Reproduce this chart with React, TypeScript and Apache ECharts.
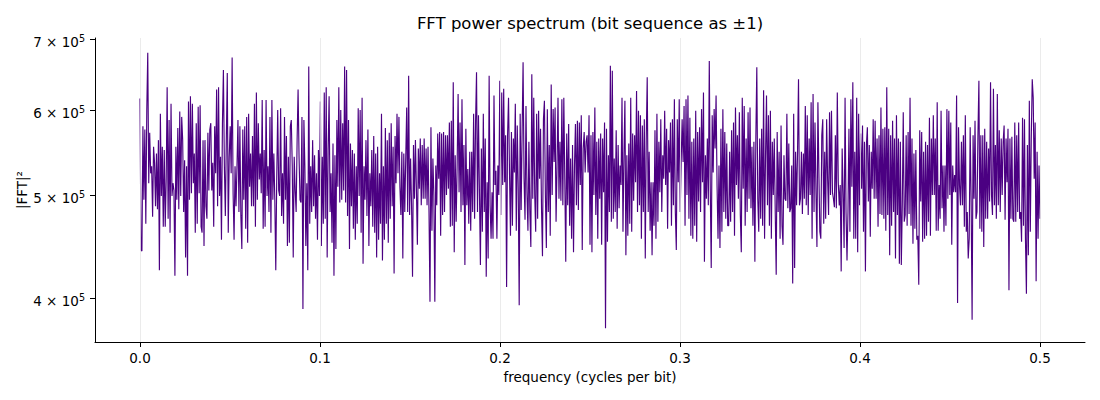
import React, { useEffect, useRef } from "react";
import * as echarts from "echarts";

// |FFT|² values, in thousands, left to right (0 → 0.5 cycles/bit)
const seg1 = [616, 444, 443, 580, 495, 576, 470, 601, 680, 513, 572, 524, 532, 477, 555, 536, 488, 547, 485, 563, 425, 596, 499, 555, 467, 551, 467, 517, 631, 475, 588, 461, 609, 499, 513, 505, 420, 555, 495, 578, 485, 599, 499, 592, 563, 482, 539, 437, 532, 420, 612, 495, 619, 502, 609, 513, 547, 461, 584, 470, 605, 502, 607, 467, 461, 563, 448, 563, 488, 475, 572, 505, 576, 584, 505, 536, 467, 580, 524, 628, 488, 631, 499, 543, 454, 584, 655, 532];
const seg2 = [478, 563, 651, 461, 543, 580, 524, 673, 502, 454, 532, 488, 532, 588, 482, 580, 478, 445, 576, 495, 580, 465, 592, 451, 596, 509, 547, 488, 568, 488, 609, 467, 624, 495, 584, 517, 547, 502, 614, 465, 551, 467, 614, 499, 532, 482, 592, 461, 614, 495, 547, 495, 425, 520, 601, 505, 499, 603, 478, 524, 470, 592, 495, 568, 448, 543, 451, 580, 588, 532, 437, 543, 505, 482, 563, 628, 543, 495, 492, 592, 391, 588, 532, 448, 513, 425, 660, 470, 532];
const seg3 = [482, 563, 488, 545, 475, 524, 454, 551, 499, 612, 448, 543, 470, 624, 475, 631, 437, 551, 619, 482, 524, 451, 559, 420, 545, 445, 588, 509, 631, 492, 601, 495, 584, 505, 660, 492, 655, 478, 588, 445, 559, 488, 551, 465, 547, 454, 532, 470, 603, 499, 601, 461, 617, 431, 532, 495, 563, 478, 576, 448, 524, 488, 551, 467, 568, 461, 547, 437, 555, 454, 524, 470, 596, 434, 532, 454, 578, 470, 563, 451, 572, 475, 584, 488, 555, 422, 568, 513, 596, 524, 592, 509];
const seg4 = [479, 549, 436, 547, 482, 541, 604, 482, 647, 479, 541, 489, 419, 557, 496, 563, 507, 449, 553, 507, 565, 489, 557, 496, 565, 496, 553, 489, 555, 482, 397, 579, 463, 541, 500, 397, 533, 489, 571, 518, 573, 458, 571, 479, 573, 482, 569, 500, 569, 507, 585, 467, 587, 468, 638, 442, 545, 472, 533, 622, 503, 585, 482, 615, 489, 557, 430, 577, 489, 529, 470, 549, 463, 549, 482, 596, 475, 585, 652, 482, 594, 503, 430, 553, 462, 596, 482, 565, 419, 514, 436, 647, 489, 455, 503, 455, 620, 511];
const seg5 = [527, 455, 533, 500, 640, 479, 624, 511, 629, 514, 569, 410, 569, 617, 525, 458, 573, 468, 565, 525, 609, 463, 581, 507, 394, 596, 484, 573, 666, 518, 474, 606, 503, 463, 561, 482, 447, 649, 496, 617, 500, 462, 596, 475, 600, 518, 577, 486, 438, 589, 613, 500, 446, 602, 482, 557, 458, 635, 500, 602, 537, 604, 472, 531, 617, 496, 561, 494, 615, 489, 617, 518, 433, 571, 489, 583, 468, 541, 455, 557, 442, 533, 583, 489, 587, 484, 585, 511, 594, 444, 553, 573, 525, 561];
const seg6 = [569, 525, 594, 449, 569, 442, 573, 500, 604, 479, 561, 455, 565, 496, 571, 449, 565, 503, 585, 375, 577, 452, 545, 482, 661, 472, 654, 475, 541, 482, 575, 465, 557, 486, 533, 511, 617, 462, 545, 613, 439, 545, 458, 559, 470, 617, 462, 571, 494, 569, 514, 626, 482, 600, 489, 594, 455, 581, 482, 589, 436, 565, 645, 482, 549, 463, 514, 439, 514, 468, 575, 455, 596, 472, 561, 503, 589, 482, 545, 518, 600, 511, 577, 465, 563, 525, 585, 468, 589, 489, 615, 482, 444, 589, 514, 615, 482, 537, 589, 537];
const seg7 = [606, 468, 615, 500, 620, 475, 591, 458, 561, 455, 565, 468, 600, 452, 573, 493, 579, 482, 602, 514, 624, 433, 545, 496, 565, 489, 668, 507, 427, 594, 525, 602, 553, 620, 511, 455, 533, 446, 577, 462, 602, 482, 573, 475, 559, 468, 468, 549, 472, 575, 482, 585, 458, 604, 511, 569, 496, 598, 479, 442, 617, 507, 606, 468, 565, 482, 598, 496, 604, 486, 555, 468, 561, 433, 565, 659, 496, 462, 565, 475, 577, 468, 627, 455, 545, 620, 489, 594, 468, 600, 455, 561, 500, 565, 482, 421];
const seg8 = [573, 482, 549, 455, 581, 468, 449, 545, 496, 494, 596, 486, 559, 482, 486, 533, 413, 596, 427, 549, 489, 549, 642, 489, 496, 549, 480, 547, 496, 606, 489, 594, 479, 565, 500, 611, 455, 622, 482, 585, 503, 447, 611, 525, 462, 455, 569, 589, 470, 549, 475, 589, 518, 479, 598, 500, 600, 503, 496, 487, 569, 486, 624, 514, 489, 511, 424, 553, 503, 446, 617, 482, 434, 482, 577, 462, 615, 509, 638, 455, 549, 455, 617, 442, 596, 489, 571, 507, 581, 462, 561, 424, 557];
const seg9 = [579, 493, 557, 457, 549, 507, 589, 496, 587, 496, 565, 467, 569, 480, 604, 479, 577, 475, 579, 463, 631, 479, 577, 439, 569, 468, 587, 482, 565, 436, 594, 479, 565, 431, 561, 430, 489, 598, 472, 479, 569, 468, 573, 480, 617, 468, 565, 450, 547, 465, 551, 454, 458, 412, 575, 493, 573, 452, 549, 455, 561, 458, 557, 472, 591, 458, 565, 500, 594, 500, 565, 463, 611, 463, 511, 475, 600, 486, 533, 462, 533, 468, 602, 496, 600, 500, 585, 449, 533, 503, 522];
const seg10 = [503, 620, 396, 579, 511, 489, 561, 489, 569, 467, 594, 462, 482, 436, 455, 579, 493, 382, 569, 496, 587, 475, 482, 569, 640, 465, 569, 462, 569, 447, 577, 475, 561, 475, 553, 493, 638, 500, 479, 629, 489, 557, 475, 622, 489, 575, 482, 565, 500, 561, 581, 474, 565, 514, 577, 407, 565, 475, 567, 475, 472, 585, 472, 569, 482, 585, 475, 482, 452, 591, 468, 589, 455, 404, 557, 439, 613, 462, 565, 642, 617, 518, 585, 415, 549, 455, 533, 475];

const powerThousands = [...seg1, ...seg2, ...seg3, ...seg4, ...seg5, ...seg6, ...seg7, ...seg8, ...seg9, ...seg10];
const freqMax = 0.5; // last bin (Nyquist)

const xTicks = [0, 0.1, 0.2, 0.3, 0.4, 0.5];
const yTicks = [400000, 500000, 600000, 700000];
const yTickMantissas = ["4", "5", "6", "7"];
const yTickExponent = "5";
const yMinValue = 364000;
const yMaxValue = 702000;

const TITLE = "FFT power spectrum (bit sequence as ±1)";
const X_NAME = "frequency (cycles per bit)";
const Y_NAME = "|FFT|²";

const FONT = "DejaVu Sans";

export default function App() {
  const ref = useRef<HTMLDivElement>(null);

  useEffect(() => {
    if (!ref.current) return;
    const chart = echarts.init(ref.current, null, { renderer: "svg" });
    const n = powerThousands.length;
    const data = powerThousands.map((v, i) => [(i * freqMax) / (n - 1), Math.log10(v * 1000)]);
    const yTicksLog = yTicks.map((v) => Math.log10(v));

    const left = 95;
    const right = 1085;
    const top = 38;
    const bottom = 342;

    chart.setOption({
      animation: false,
      backgroundColor: "#ffffff",
      grid: { left, right: 1100 - right, top, bottom: 400 - bottom, containLabel: false },
      xAxis: {
        type: "value",
        min: -0.025,
        max: 0.525,
        axisLine: { show: true, onZero: false, lineStyle: { color: "#000", width: 1 } },
        axisTick: {
          show: true,
          customValues: xTicks,
          length: 5,
          lineStyle: { color: "#000", width: 1 },
        },
        axisLabel: {
          show: true,
          customValues: xTicks,
          margin: 9,
          color: "#000",
          fontFamily: FONT,
          fontSize: 13.5,
          formatter: (v: number) => v.toFixed(1),
        },
        splitLine: { show: false },
      },
      yAxis: {
        type: "value",
        min: Math.log10(yMinValue),
        max: Math.log10(yMaxValue),
        axisLine: { show: true, onZero: false, lineStyle: { color: "#000", width: 1 } },
        axisTick: {
          show: true,
          customValues: yTicksLog,
          length: 5,
          lineStyle: { color: "#000", width: 1 },
        },
        axisLabel: {
          show: true,
          customValues: yTicksLog,
          margin: 10,
          color: "#000",
          fontFamily: FONT,
          fontSize: 13.5,
          formatter: (v: number) => {
            const idx = yTicksLog.findIndex((t) => Math.abs(t - v) < 1e-6);
            if (idx < 0) return "";
            return `{m|${yTickMantissas[idx]} × 10}{e|${yTickExponent}}`;
          },
          rich: {
            m: { fontFamily: FONT, fontSize: 13.5, color: "#000", padding: [5, 0, 0, 0] },
            e: { fontFamily: FONT, fontSize: 9.6, color: "#000", padding: [0, 0, 2, 0] },
          },
        },
        splitLine: { show: false },
      },
      series: [
        {
          type: "line",
          data: [],
          z: 1,
          silent: true,
          markLine: {
            silent: true,
            symbol: ["none", "none"],
            label: { show: false },
            lineStyle: { color: "#e6e6e6", type: "solid", width: 0.8 },
            data: xTicks.map((v) => ({ xAxis: v })),
          },
        },
        {
          type: "line",
          data,
          z: 3,
          showSymbol: false,
          symbol: "none",
          lineStyle: { color: "#4b0082", width: 1.15 },
          emphasis: { disabled: true },
        },
      ],
      graphic: [
        {
          type: "text",
          x: (left + right) / 2,
          y: 23,
          style: {
            text: TITLE,
            fill: "#000",
            font: `16.5px '${FONT}'`,
            align: "center",
            verticalAlign: "middle",
          },
        },
        {
          type: "text",
          x: (left + right) / 2,
          y: 377,
          style: {
            text: X_NAME,
            fill: "#000",
            font: `13.5px '${FONT}'`,
            align: "center",
            verticalAlign: "middle",
          },
        },
        {
          type: "text",
          x: 22,
          y: (top + bottom) / 2,
          rotation: Math.PI / 2,
          style: {
            text: Y_NAME,
            fill: "#000",
            font: `13.5px '${FONT}'`,
            align: "center",
            verticalAlign: "middle",
          },
        },
      ],
    });

    return () => chart.dispose();
  }, []);

  return (
    <div
      ref={ref}
      style={{ position: "absolute", left: 0, top: 0, width: 1100, height: 400 }}
    />
  );
}
